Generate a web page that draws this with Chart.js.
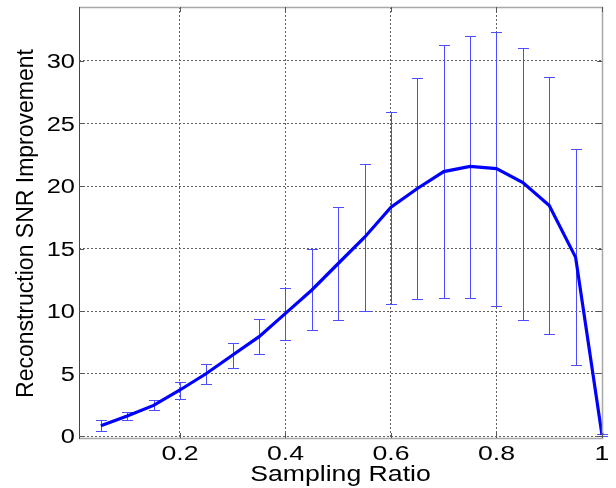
<!DOCTYPE html>
<html>
<head>
<meta charset="utf-8">
<script src="https://cdn.jsdelivr.net/npm/chart.js@4/dist/chart.umd.min.js"></script>
<style>
  html, body { margin: 0; padding: 0; background: #ffffff; }
  #wrap { width: 616px; height: 488px; }
</style>
</head>
<body>
<div id="wrap"><canvas id="c" width="616" height="488"></canvas></div>
<script>
const samplingRatio = [0.05, 0.10, 0.15, 0.20, 0.25, 0.30, 0.35, 0.40, 0.45, 0.50,
                       0.55, 0.60, 0.65, 0.70, 0.75, 0.80, 0.85, 0.90, 0.95, 1.00];
const snrMean  = [0.82, 1.60, 2.45, 3.68, 5.00, 6.48, 7.95, 9.81, 11.68, 13.80,
                  15.90, 18.30, 19.80, 21.15, 21.57, 21.39, 20.27, 18.43, 14.29, 0.08];
const snrLower = [0.43, 1.28, 2.08, 3.00, 4.13, 5.41, 6.55, 7.65, 8.48, 9.25,
                  10.00, 10.58, 10.95, 11.01, 11.04, 10.40, 9.28, 8.16, 5.68, 0.00];
const snrUpper = [1.28, 1.90, 2.88, 4.32, 5.73, 7.47, 9.39, 11.84, 14.96, 18.32,
                  21.76, 25.92, 28.60, 31.30, 32.00, 32.29, 31.07, 28.74, 22.93, 0.20];
const xTicks = [0.2, 0.4, 0.6, 0.8, 1];
const yTicks = [0, 5, 10, 15, 20, 25, 30];
const xTickLabels = ['0.2', '0.4', '0.6', '0.8', '1'];
const yTickLabels = ['0', '5', '10', '15', '20', '25', '30'];
const xTitle = 'Sampling Ratio';
const yTitle = 'Reconstruction SNR Improvement';

const matlabPlugin = {
  id: 'matlabAxes',
  beforeDatasetsDraw(chart) {
    const ctx = chart.ctx, xs = chart.scales.x, ys = chart.scales.y;
    ctx.save();
    ctx.strokeStyle = '#4d4dff';
    ctx.lineWidth = 1;
    for (let i = 0; i < samplingRatio.length; i++) {
      const px = Math.round(xs.getPixelForValue(samplingRatio[i])) + 0.5;
      const yt = Math.round(ys.getPixelForValue(snrUpper[i])) + 0.5;
      const yb = Math.round(ys.getPixelForValue(snrLower[i])) + 0.5;
      ctx.beginPath();
      ctx.moveTo(px, yt); ctx.lineTo(px, yb);
      ctx.moveTo(px - 5.5, yt); ctx.lineTo(px + 5.5, yt);
      ctx.moveTo(px - 5.5, yb); ctx.lineTo(px + 5.5, yb);
      ctx.stroke();
    }
    ctx.restore();
  },
  afterDraw(chart) {
    const ctx = chart.ctx, xs = chart.scales.x, ys = chart.scales.y, a = chart.chartArea;
    ctx.save();
    // box
    ctx.lineWidth = 1.5;
    ctx.strokeStyle = '#a8a8a8';
    ctx.beginPath();
    ctx.moveTo(a.left, a.top + 0.5); ctx.lineTo(a.right + 1, a.top + 0.5);
    ctx.moveTo(a.left, a.bottom + 0.5); ctx.lineTo(a.right + 1, a.bottom + 0.5);
    ctx.moveTo(a.right + 0.5, a.top); ctx.lineTo(a.right + 0.5, a.bottom + 1);
    ctx.stroke();
    ctx.lineWidth = 1;
    ctx.strokeStyle = '#444444';
    ctx.beginPath();
    ctx.moveTo(a.left + 0.5, a.top); ctx.lineTo(a.left + 0.5, a.bottom + 1);
    ctx.stroke();
    // inward ticks
    ctx.strokeStyle = '#555555';
    ctx.beginPath();
    yTicks.forEach(v => {
      const py = Math.round(ys.getPixelForValue(v)) + 0.5;
      ctx.moveTo(a.left, py); ctx.lineTo(a.left + 5, py);
      ctx.moveTo(a.right, py); ctx.lineTo(a.right - 5, py);
    });
    xTicks.forEach(v => {
      const px = Math.round(xs.getPixelForValue(v)) + 0.5;
      ctx.moveTo(px, a.bottom); ctx.lineTo(px, a.bottom - 5);
      ctx.moveTo(px, a.top); ctx.lineTo(px, a.top + 5);
    });
    ctx.stroke();
    // tick labels
    ctx.fillStyle = '#000000';
    ctx.textBaseline = 'alphabetic';
    ctx.font = '21px "Liberation Sans", Arial, sans-serif';
    xTicks.forEach((v, i) => {
      const px = xs.getPixelForValue(v);
      ctx.save();
      ctx.translate(px, 460);
      ctx.scale(1.27, 1);
      ctx.textAlign = 'center';
      ctx.fillText(xTickLabels[i], 0, 0);
      ctx.restore();
    });
    ctx.font = '20px "Liberation Sans", Arial, sans-serif';
    yTicks.forEach((v, i) => {
      const py = ys.getPixelForValue(v);
      ctx.save();
      ctx.translate(75, py + 7);
      ctx.scale(1.27, 1);
      ctx.textAlign = 'right';
      ctx.fillText(yTickLabels[i], 0, 0);
      ctx.restore();
    });
    // axis titles
    ctx.font = '22px "Liberation Sans", Arial, sans-serif';
    ctx.save();
    ctx.translate((a.left + a.right) / 2, 481);
    ctx.scale(1.21, 1);
    ctx.textAlign = 'center';
    ctx.fillText(xTitle, 0, 0);
    ctx.restore();
    ctx.font = '23px "Liberation Sans", Arial, sans-serif';
    ctx.save();
    ctx.translate(33, (a.top + a.bottom) / 2 + 1);
    ctx.rotate(-Math.PI / 2);
    ctx.textAlign = 'center';
    ctx.fillText(yTitle, 0, 0);
    ctx.restore();
    ctx.restore();
  }
};

new Chart(document.getElementById('c'), {
  type: 'line',
  data: {
    datasets: [{
      data: samplingRatio.map((x, i) => ({ x: x, y: snrMean[i] })),
      borderColor: '#0000ff',
      borderWidth: 3.2,
      pointRadius: 0,
      tension: 0,
      fill: false,
      clip: false
    }]
  },
  options: {
    responsive: false,
    animation: false,
    devicePixelRatio: 1,
    layout: { padding: { left: 79, right: 14, top: 7, bottom: 50 } },
    plugins: { legend: { display: false }, tooltip: { enabled: false } },
    scales: {
      x: {
        type: 'linear', min: 0.0086, max: 1,
        afterBuildTicks: s => { s.ticks = xTicks.map(v => ({ value: v })); },
        ticks: { display: false },
        grid: { color: '#606060', lineWidth: 1, drawTicks: false },
        border: { display: false, dash: [2, 2] }
      },
      y: {
        type: 'linear', min: -0.16, max: 34.32,
        afterBuildTicks: s => { s.ticks = yTicks.map(v => ({ value: v })); },
        ticks: { display: false },
        grid: { color: '#606060', lineWidth: 1, drawTicks: false },
        border: { display: false, dash: [2, 2] }
      }
    }
  },
  plugins: [matlabPlugin]
});
</script>
</body>
</html>
